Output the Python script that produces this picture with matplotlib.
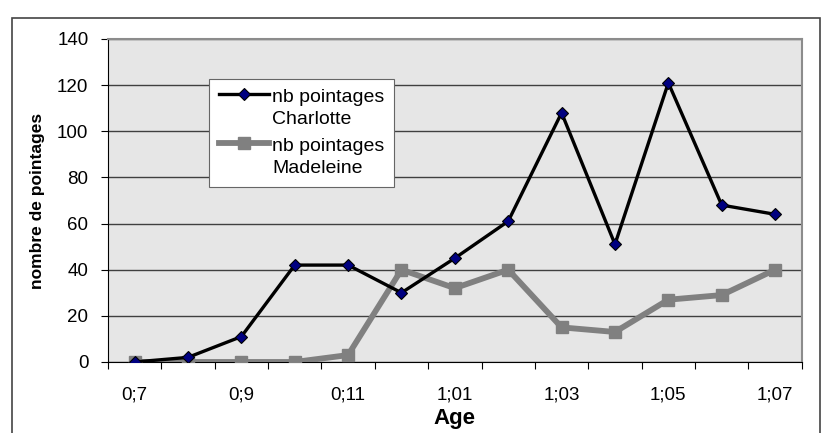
import matplotlib.pyplot as plt
from matplotlib.patches import Rectangle
from matplotlib.legend_handler import HandlerLine2D

plt.rcParams['font.family'] = ['Liberation Sans', 'DejaVu Sans']

# Data
ages = ["0;7", "0;8", "0;9", "0;10", "0;11", "1;00", "1;01",
        "1;02", "1;03", "1;04", "1;05", "1;06", "1;07"]
charlotte = [0, 2, 11, 42, 42, 30, 45, 61, 108, 51, 121, 68, 64]
madeleine = [0, 0, 0, 0, 3, 40, 32, 40, 15, 13, 27, 29, 40]


class FirstLineHandler(HandlerLine2D):
    # put the legend symbol next to the first line of a two-line label
    def create_artists(self, legend, orig_handle, xdescent, ydescent,
                       width, height, fontsize, trans):
        arts = super().create_artists(legend, orig_handle, xdescent, ydescent,
                                      width, height, fontsize, trans)
        for a in arts:
            a.set_ydata([y + 0.7 * fontsize for y in a.get_ydata()])
        return arts


fig = plt.figure(figsize=(8.3, 4.33), dpi=100)
ax = fig.add_axes([0.130, 0.164, 0.836, 0.746])
ax.set_facecolor("#e6e6e6")

x = list(range(len(ages)))
ax.plot(x, charlotte, color="black", lw=2.4, marker="D", ms=6.5,
        mfc="#000080", mec="black", mew=0.8, zorder=4,
        label="nb pointages\nCharlotte")
ax.plot(x, madeleine, color="#808080", lw=4.2, marker="s", ms=8.5,
        mfc="#808080", mec="#808080", zorder=3,
        label="nb pointages\nMadeleine")

ax.set_xlim(-0.5, len(ages) - 0.5)
ax.set_ylim(0, 140)
ax.set_yticks(range(0, 141, 20))
ax.yaxis.grid(True, color="#404040", lw=1.0)
ax.set_axisbelow(True)

# category boundaries as ticks, labels every other category
ax.set_xticks([i - 0.5 for i in range(len(ages) + 1)])
ax.set_xticklabels([])
ax.set_xticks(x[::2], minor=True)
ax.set_xticklabels(ages[::2], minor=True)
ax.tick_params(axis="x", which="major", length=5, direction="out", color="black")
ax.tick_params(axis="x", which="minor", length=0, pad=18, labelsize=13.5)
ax.tick_params(axis="y", length=5, pad=9, labelsize=13.5)

for s in ["left", "bottom"]:
    ax.spines[s].set_color("black")
for s in ["top", "right"]:
    ax.spines[s].set_color("#8c8c8c")
    ax.spines[s].set_linewidth(1.5)

ax.set_ylabel("nombre de pointages", fontsize=12.5, fontweight="bold", labelpad=9)
ax.set_xlabel("Age", fontsize=16, fontweight="bold", labelpad=3)

leg = ax.legend(loc="upper left", bbox_to_anchor=(0.1455, 0.876), fontsize=14,
                frameon=True, fancybox=False, framealpha=1, edgecolor="#666666",
                handlelength=2.6, handletextpad=0.15, labelspacing=0.5,
                borderpad=0.5, borderaxespad=0,
                handler_map={plt.Line2D: FirstLineHandler()})
leg.get_frame().set_linewidth(0.8)
for t in leg.get_texts():
    t.set_linespacing(1.4)

# outer frame around the chart
fig.patches.append(Rectangle((12 / 830, -0.1), 808 / 830, 1.1 - 18 / 433,
                             transform=fig.transFigure, fill=False,
                             edgecolor="#444444", lw=1.2))

fig.savefig("out.png", dpi=100)
